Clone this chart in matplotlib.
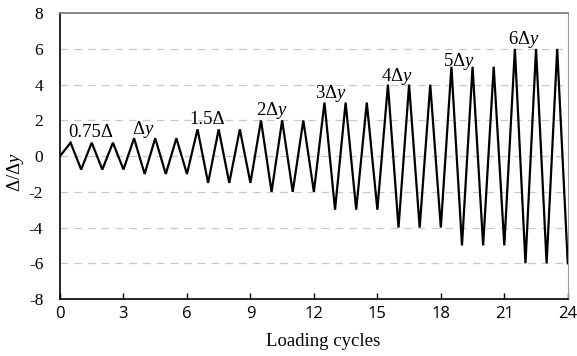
import matplotlib
matplotlib.use("Agg")
import matplotlib.pyplot as plt

# Peak amplitude (Δ/Δy) of each loading cycle
cycle_amplitudes = [0.75, 0.75, 0.75, 1, 1, 1, 1.5, 1.5, 1.5, 2, 2, 2,
                    3, 3, 3, 4, 4, 4, 5, 5, 5, 6, 6, 6]
x_ticks = [0, 3, 6, 9, 12, 15, 18, 21, 24]
y_ticks = [-8, -6, -4, -2, 0, 2, 4, 6, 8]
level_labels = ["0.75Δ", "Δ$y$", "1.5Δ", "2Δ$y$", "3Δ$y$", "4Δ$y$", "5Δ$y$", "6Δ$y$"]
label_x = [1.44, 3.94, 6.94, 10.01, 12.78, 15.9, 18.85, 21.92]
label_y = [1.06, 1.23, 1.79, 2.29, 3.23, 4.21, 5.05, 6.25]

# Build the displacement history: start at 0, each cycle peaks at +a then -a
xs, ys = [0.0], [0.0]
for i, a in enumerate(cycle_amplitudes):
    xs += [i + 0.5, i + 1.0]
    ys += [a, -a]

serif = "Liberation Serif"
plt.rcParams["mathtext.fontset"] = "custom"
plt.rcParams["mathtext.it"] = "Liberation Serif:italic"
plt.rcParams["mathtext.rm"] = "Liberation Serif"

fig = plt.figure(figsize=(5.77, 3.56), dpi=100)
ax = fig.add_axes([0.104, 0.160, 0.880, 0.803])

ax.plot(xs, ys, color="black", lw=1.6, solid_joinstyle="miter")

ax.set_xlim(0, 24)
ax.set_ylim(-8, 8)
ax.set_xticks(x_ticks)
ax.set_yticks(y_ticks)
ax.set_xticklabels([str(v) for v in x_ticks], family="Open Sans", fontsize=12)
ax.set_yticklabels([str(v) for v in y_ticks], family=serif, fontsize=12.5)

for yv in [-6, -4, -2, 0, 2, 4, 6]:
    ax.axhline(yv, color="#c8c8c8", lw=0.9, dashes=(6, 5), zorder=0)

ax.tick_params(axis="x", direction="in", length=4, width=1, pad=5)
ax.tick_params(axis="y", length=0, pad=12)

for s in ["left", "bottom"]:
    ax.spines[s].set_color("black")
    ax.spines[s].set_linewidth(1.2)
ax.spines["top"].set_color("#777777")
ax.spines["top"].set_linewidth(1.2)
ax.spines["right"].set_color("#999999")
ax.spines["right"].set_linewidth(0.8)

for t, lx, ly in zip(level_labels, label_x, label_y):
    ax.text(lx, ly, t, ha="center", va="baseline", family=serif, fontsize=13.5)

fig.text(323 / 577, 1 - 341 / 356, "Loading cycles", ha="center", va="center",
         family=serif, fontsize=13.5)
fig.text(15 / 577, 1 - 172 / 356, "Δ/Δ$y$", ha="center", va="center",
         rotation=90, family=serif, fontsize=13.5)

fig.savefig("out.png", dpi=100)
